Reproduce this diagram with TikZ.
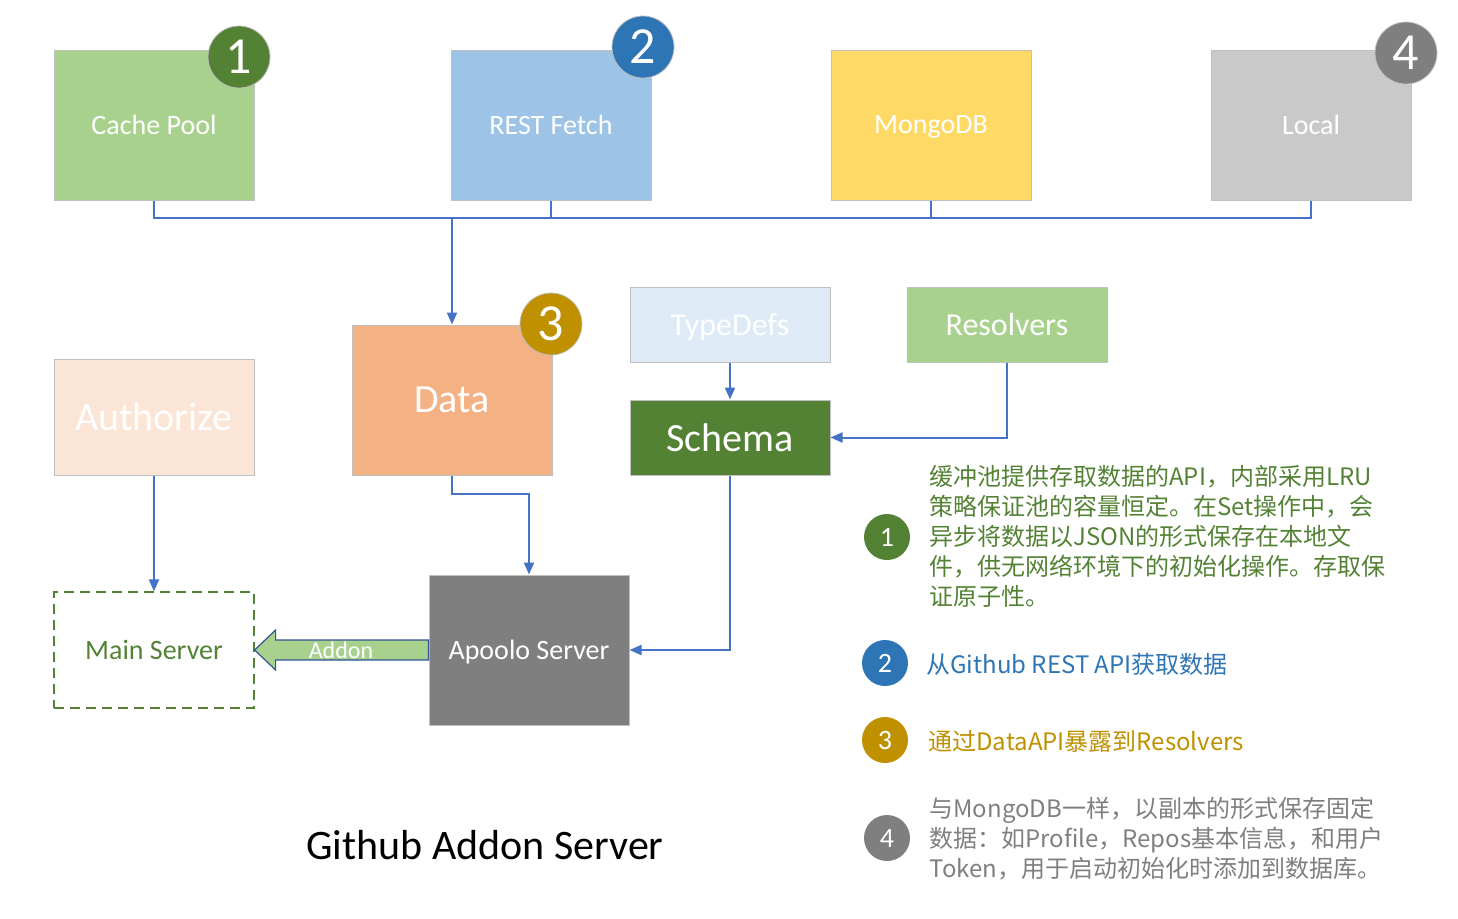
\documentclass[tikz,border=0pt]{standalone}
\usepackage{fontspec}
\setmainfont{Carlito}
\newfontfamily\cjk{Noto Sans CJK SC}
\usetikzlibrary{arrows.meta}

\definecolor{boxline}{HTML}{C0C0C0}
\definecolor{linkblue}{HTML}{4472C4}
\definecolor{darkgreen}{HTML}{548235}
\definecolor{lightgreen}{HTML}{A9D18E}
\definecolor{darkblue}{HTML}{2E75B6}
\definecolor{lightblue}{HTML}{9DC3E6}
\definecolor{paleblue}{HTML}{DEEBF7}
\definecolor{yellow}{HTML}{FFD966}
\definecolor{lightgray}{HTML}{C9C9C9}
\definecolor{darkgray}{HTML}{7F7F7F}
\definecolor{orange}{HTML}{F4B183}
\definecolor{paleorange}{HTML}{FBE5D6}
\definecolor{gold}{HTML}{BF9000}
\definecolor{arrowline}{HTML}{2F5597}

\begin{document}
\begin{tikzpicture}[x = 0.5pt, y = -0.5pt,
                        box/.style = {rectangle, draw = boxline, line width = 0.5pt, text = white,
                                      minimum width = 100pt, minimum height = 75pt, inner sep = 0pt,
                                      text depth = 0pt, font = \fontsize{14}{16}\selectfont},
                        flat/.style = {box, minimum height = 37.5pt, font = \fontsize{16}{18}\selectfont},
                        tall/.style = {box, minimum height = 58pt, font = \fontsize{20}{22}\selectfont},
                        badge/.style = {circle, draw = boxline, line width = 0.4pt, minimum size = 31pt,
                                        inner sep = 0pt, text = white, font = \fontsize{26}{28}\selectfont},
                        dot/.style = {circle, minimum size = 23pt, inner sep = 0pt, text = white,
                                      font = \fontsize{14}{16}\selectfont},
                        note/.style = {anchor = west, align = left, inner sep = 0pt,
                                       font = \cjk\fontsize{12}{15}\selectfont},
                        link/.style = {draw = linkblue, line width = 1pt},
                        arrow/.style = {link, -{Triangle[length = 6pt, width = 5pt]}}]
      \useasboundingbox (0, 0) rectangle (1458, 918);

      \node [box, fill = lightgreen] (cache) at (154, 125){Cache Pool};
      \node [box, fill = lightblue] (rest) at (551, 125){REST Fetch};
      \node [box, fill = yellow] (mongo) at (931, 125){MongoDB};
      \node [box, fill = lightgray] (local) at (1311, 125){Local};

      \node [box, fill = orange, font = \fontsize{20}{22}\selectfont] (data) at (452, 400){Data};
      \node [flat, fill = paleblue] (typedefs) at (730, 324.5){TypeDefs};
      \node [flat, fill = lightgreen] (resolvers) at (1007, 324.5){Resolvers};
      \node [flat, fill = darkgreen, font = \fontsize{20}{22}\selectfont] (schema) at (730, 437.5){Schema};
      \node [tall, fill = paleorange] (auth) at (154, 417){Authorize};
      \node [tall, draw = darkgreen, line width = 0.6pt, dash pattern = on 5pt off 3pt, text = darkgreen,
             font = \fontsize{14}{16}\selectfont] (main) at (154, 650){Main Server};
      \node [box, fill = darkgray] (apoolo) at (529, 650){Apoolo Server};

      \node [badge, fill = darkgreen] (b1) at (239, 57){1};
      \node [badge, fill = darkblue] (b2) at (643, 47){2};
      \node [badge, fill = gold] (b3) at (551, 324){3};
      \node [badge, fill = darkgray] (b4) at (1406, 53){4};

      \coordinate (bus) at (452, 218);
      \draw [link] (cache.south) -- (cache.south |- bus) -- (local.south |- bus) -- (local.south);
      \draw [link] (rest.south) -- (rest.south |- bus);
      \draw [link] (mongo.south) -- (mongo.south |- bus);
      \draw [arrow] (bus) -- (data.north);

      \draw [arrow] (typedefs) -- (schema);
      \draw [arrow] (resolvers.south) |- (schema.east);
      \draw [arrow] (data.south) -- ++(0, 18) -| (apoolo.north);
      \draw [arrow] (schema.south) |- (apoolo.east);
      \draw [arrow] (auth) -- (main);

      \draw [fill = lightgreen, draw = arrowline, line width = 0.6pt]
            ([yshift = 5pt]apoolo.west) -- ([xshift = 10.5pt, yshift = 5pt]main.east)
         -- ([xshift = 10.5pt, yshift = 10pt]main.east) -- (main.east)
         -- ([xshift = 10.5pt, yshift = -10pt]main.east) -- ([xshift = 10.5pt, yshift = -5pt]main.east)
         -- ([yshift = -5pt]apoolo.west) -- cycle;
      \node [text = white, inner sep = 0pt, font = \fontsize{12}{14}\selectfont] (addon) at (341, 650){Addon};

      \node [font = \fontsize{21}{24}\selectfont] (title) at (485, 845){Github Addon Server};

      \node [dot, fill = darkgreen] (d1) at (887, 537){1};
      \node [dot, fill = darkblue] (d2) at (885, 663){2};
      \node [dot, fill = gold] (d3) at (885, 740){3};
      \node [dot, fill = darkgray] (d4) at (887, 838){4};

      \node [note, text = darkgreen] (n1) at (929, 536){缓冲池提供存取数据的API，内部采用LRU\\
            策略保证池的容量恒定。在Set操作中，会\\
            异步将数据以JSON的形式保存在本地文\\
            件，供无网络环境下的初始化操作。存取保\\
            证原子性。};
      \node [note, text = darkblue] (n2) at (926, 664){从Github REST API获取数据};
      \node [note, text = gold] (n3) at (928, 741){通过DataAPI暴露到Resolvers};
      \node [note, text = darkgray] (n4) at (929, 839){与MongoDB一样，以副本的形式保存固定\\
            数据：如Profile，Repos基本信息，和用户\\
            Token，用于启动初始化时添加到数据库。};

      \end{tikzpicture}
\end{document}
